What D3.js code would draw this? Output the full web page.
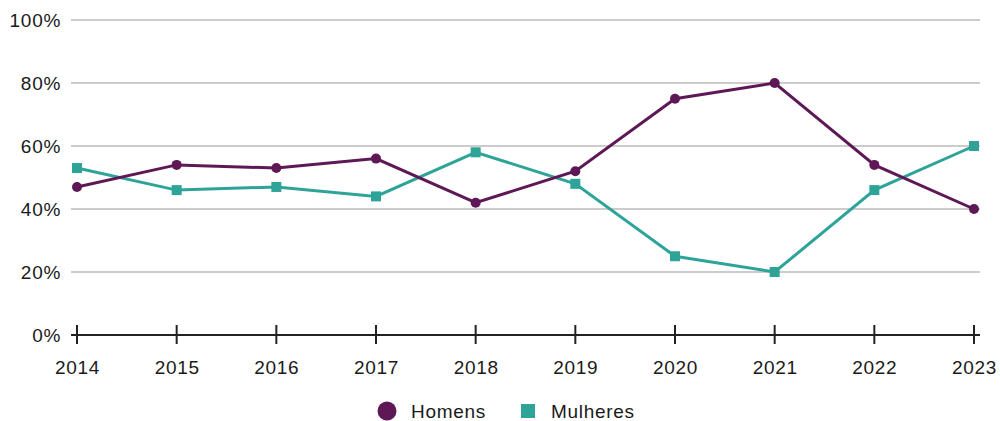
<!DOCTYPE html>
<html><head><meta charset="utf-8">
<script src="https://cdn.jsdelivr.net/npm/d3@7"></script>
<style>body{margin:0;background:#fff;} text{font-family:"Liberation Sans",Arial,sans-serif;letter-spacing:0.7px;}</style>
</head><body>
<svg id="c" width="1000" height="421"></svg>
<script>
const years = ["2014","2015","2016","2017","2018","2019","2020","2021","2022","2023"];
const homens = [47,54,53,56,42,52,75,80,54,40];
const mulheres = [53,46,47,44,58,48,25,20,46,60];
const yTicks = [0,20,40,60,80,100];
const seriesNames = ["Homens","Mulheres"];
const colors = ["#5e1856","#2ea398"];
const FS = 19;

const svg = d3.select("#c");
const x = d3.scalePoint().domain(years).range([77,974]);
const y = d3.scaleLinear().domain([0,100]).range([335,20]);

// grid
svg.append("g").selectAll("line").data(yTicks.filter(d=>d>0)).join("line")
  .attr("x1",71).attr("x2",980).attr("y1",d=>y(d)).attr("y2",d=>y(d))
  .attr("stroke","#cccccc").attr("stroke-width",2);
// y labels
svg.append("g").selectAll("text").data(yTicks).join("text")
  .attr("x",61).attr("y",d=>y(d)).attr("dy","0.35em").attr("text-anchor","end")
  .attr("font-size",FS).attr("fill","#1a1a1a").text(d=>d+"%");
// x axis
const xa = svg.append("g").attr("transform",`translate(0,${y(0)})`)
  .call(d3.axisBottom(x).tickSize(0).tickPadding(26));
xa.select(".domain").remove();
xa.selectAll("text").attr("font-size",FS).attr("fill","#1a1a1a").attr("font-family","Liberation Sans, Arial, sans-serif");
svg.append("line").attr("x1",71).attr("x2",980).attr("y1",y(0)).attr("y2",y(0)).attr("stroke","#222").attr("stroke-width",2);
svg.append("g").selectAll("line").data(years).join("line")
  .attr("x1",d=>x(d)).attr("x2",d=>x(d)).attr("y1",y(0)-10).attr("y2",y(0)+9)
  .attr("stroke","#222").attr("stroke-width",2);

const line = d3.line().x((d,i)=>x(years[i])).y(d=>y(d));
// mulheres
svg.append("path").datum(mulheres).attr("d",line).attr("fill","none").attr("stroke",colors[1]).attr("stroke-width",3);
svg.append("g").selectAll("rect").data(mulheres).join("rect")
  .attr("x",(d,i)=>x(years[i])-5).attr("y",d=>y(d)-5).attr("width",10).attr("height",10).attr("fill",colors[1]);
// homens
svg.append("path").datum(homens).attr("d",line).attr("fill","none").attr("stroke",colors[0]).attr("stroke-width",3);
svg.append("g").selectAll("circle").data(homens).join("circle")
  .attr("cx",(d,i)=>x(years[i])).attr("cy",d=>y(d)).attr("r",5).attr("fill",colors[0]);

// legend
const lg = svg.append("g");
lg.append("circle").attr("cx",387).attr("cy",411).attr("r",9.5).attr("fill",colors[0]);
lg.append("text").attr("x",411).attr("y",411).attr("dy","0.35em").attr("font-size",FS).attr("fill","#1a1a1a").text(seriesNames[0]);
lg.append("rect").attr("x",521).attr("y",404).attr("width",14).attr("height",14).attr("fill",colors[1]);
lg.append("text").attr("x",551).attr("y",411).attr("dy","0.35em").attr("font-size",FS).attr("fill","#1a1a1a").text(seriesNames[1]);
</script>
</body></html>
